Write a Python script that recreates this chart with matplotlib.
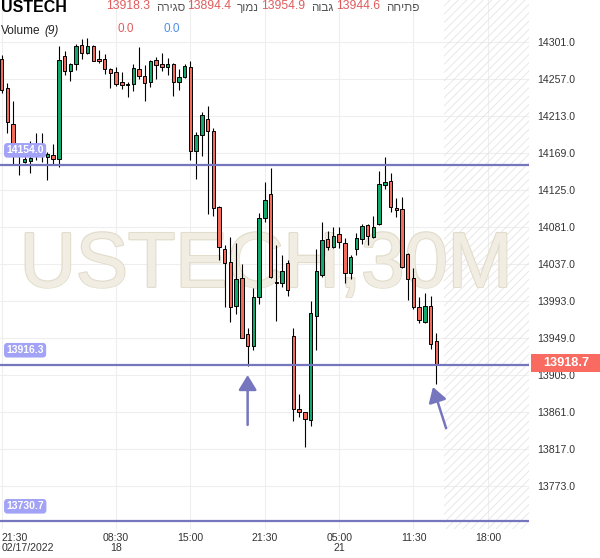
import numpy as np
import matplotlib
matplotlib.use("Agg")
import matplotlib.pyplot as plt
import matplotlib.patheffects as pe
from matplotlib.patches import Rectangle

plt.rcParams['font.family'] = ['Liberation Sans', 'DejaVu Sans']
plt.rcParams['hatch.linewidth'] = 0.6

# 30-minute candles, USTECH, 02/17/2022 21:30 onwards
OPEN = [14281, 14246, 14203, 14172, 14158, 14159.5, 14172, 14178, 14164, 14166,
        14161, 14284, 14266.5, 14274, 14297, 14288, 14296, 14280, 14280, 14268.5,
        14264.6, 14252.7, 14249.2, 14250.3, 14268.2, 14260.6, 14253.4, 14279.2, 14274.1, 14270.6,
        14274.1, 14253.4, 14259.4, 14270.6, 14171, 14189.7, 14208.7, 14194.5, 14104.1, 14054.5,
        14038.7, 13986.7, 14020, 13953.4, 13939.1, 13997.4, 14091, 14119.9, 14014, 14013.7,
        14037.5, 13950.7, 13863.9, 13860.3, 13851.1, 13974.8, 14023.9, 14066, 14057.2, 14072,
        14061.3, 14025.6, 14054.1, 14066, 14082.7, 14068.4, 14084.2, 14130.6, 14135.7, 14102.9,
        14101.7, 14048.2, 14019.7, 13985.2, 13967.3, 13986.7, 13944.6]
HIGH = [14285, 14252, 14230, 14181, 14175, 14183, 14192, 14192, 14170, 14179,
        14296, 14290, 14275.5, 14298, 14304, 14305, 14297, 14291, 14286, 14269.5,
        14270.6, 14265.3, 14253.4, 14274.1, 14294.4, 14273.3, 14279.2, 14282.5, 14287.2, 14282,
        14275.3, 14268.2, 14274.1, 14278, 14194, 14217.8, 14224.5, 14198, 14105.6, 14059.2,
        14069.1, 14062, 14036.3, 13960.9, 14008.5, 14097.7, 14133.8, 14150.5, 14059.2, 14047.4,
        14041.4, 13960.2, 13881.7, 13861, 13993, 14054.5, 14086.6, 14075.9, 14081, 14081,
        14067.2, 14047.4, 14073.2, 14084.2, 14084.2, 14093.7, 14147.6, 14163.5, 14145.2, 14115.5,
        14116.7, 14049.7, 14031.5, 13997.8, 14001.8, 13999, 13954.9]
LOW = [14240, 14193, 14156, 14142, 14157, 14144.5, 14160, 14158, 14136.5, 14156,
       14152, 14261, 14254.6, 14267, 14281, 14286, 14278, 14276, 14263, 14245.6,
       14248.3, 14244.4, 14235, 14242.4, 14256.3, 14230.8, 14246.8, 14256.3, 14266.5, 14261.4,
       14236.8, 14243.6, 14257.5, 14160.3, 14137.4, 14165.4, 14095.8, 14094.1, 14041.4, 13985.2,
       13968, 13977.2, 13948.3, 13915.3, 13934.4, 13988.7, 14086.6, 14019.6, 13969.2, 14009.7,
       13999, 13849.9, 13855.1, 13818.7, 13844.4, 13934, 14021.5, 14053.3, 14055.3, 14056,
       14013.7, 14018.8, 14047.4, 14060.4, 14059.2, 14067.2, 14083, 14125.5, 14098.8, 14092.9,
       14031.5, 13993.8, 13982.8, 13966.1, 13966.1, 13935.2, 13894.4]
CLOSE = [14243, 14205, 14172, 14166, 14162, 14163, 14179, 14170, 14167, 14161,
         14279, 14266.5, 14274.5, 14296, 14288, 14296, 14278.5, 14278.5, 14268, 14263.4,
         14250.3, 14249.2, 14250.7, 14269.4, 14260.6, 14252.3, 14277.7, 14273.7, 14270.6, 14274.1,
         14252.7, 14258.7, 14272.1, 14171, 14189.7, 14213.5, 14194.5, 14102.9, 14056.5, 14037.5,
         13985.2, 14018.5, 13949, 13939.1, 13997.4, 14091, 14112.8, 14021.2, 14013.7, 14028,
         14005.4, 13863.9, 13860.3, 13852, 13978, 14028, 14065.2, 14057.2, 14069.9, 14062.5,
         14025.6, 14044.6, 14067.2, 14081.8, 14069.9, 14080.3, 14131.4, 14134.5, 14104.1, 14101.2,
         14033.4, 14018.5, 13985.2, 13970.1, 13987.1, 13941.2, 13918.3]

LEVELS = [14154.0, 13916.3, 13730.7]
LAST_PRICE = 13918.7
PRICE_TICKS = [14301.0, 14257.0, 14213.0, 14169.0, 14125.0, 14081.0, 14037.0,
               13993.0, 13949.0, 13905.0, 13861.0, 13817.0, 13773.0]
TIME_TICKS = [0, 20, 33, 46, 59, 72, 85]
TIME_LABELS = ["21:30\n02/17/2022", "08:30\n18", "15:00", "21:30", "05:00\n21", "11:30", "18:00"]
HEADER_LABELS = ["סגירה", "נמוך", "גבוה", "פתיחה"]
HEADER_VALUES = [13918.3, 13894.4, 13954.9, 13944.6]
VOLUME_VALUES = [0.0, 0.0]

C_UP, C_DN = "#13a86b", "#f26b5b"
C_LEVEL, C_TAG = "#7676be", "#a2a2f7"
C_RED, C_BLUE, C_GREY = "#e05c5c", "#4d8fe6", "#555555"

W, H = 600, 558
fig = plt.figure(figsize=(W / 100, H / 100), dpi=100)
fig.patch.set_facecolor("white")
ax = fig.add_axes([0, 1 - 529 / H, 529 / W, 529 / H])
ax.set_xlim(-0.3, 92.2)
ax.set_ylim(13721.5, 14350.6)
for s in ax.spines.values():
    s.set_visible(False)

# grid + future hatch
ax.set_axisbelow(True)
ax.set_yticks(PRICE_TICKS)
ax.set_yticklabels([f"{v:.1f}" for v in PRICE_TICKS])
ax.set_xticks(TIME_TICKS)
ax.set_xticklabels(TIME_LABELS, linespacing=0.95)
ax.grid(True, color="#eeeeee", lw=0.8)
ax.yaxis.tick_right()
ax.tick_params(axis="y", length=0, pad=6, labelsize=7.6, labelcolor="#333333")
ax.tick_params(axis="x", length=0, pad=3, labelsize=7.6, labelcolor="#333333")
ax.get_xticklabels()[0].set_ha("left")
ax.axvspan(77.3, 92.2, facecolor="none", edgecolor="#e4e4e4", hatch="////", lw=0, zorder=0.6)

# watermark
ax.text(0.503, 0.458, "USTECH,30M", transform=ax.transAxes, ha="center", va="baseline",
        fontsize=56, color="#f1ede3", zorder=1,
        path_effects=[pe.withStroke(linewidth=1.8, foreground="#e2dccb")])
ax.text(0.503, 0.458, "USTECH,30M", transform=ax.transAxes, ha="center", va="baseline",
        fontsize=56, color="#f1ede3", zorder=1.1)

# candles
for i, (o, h, l, c) in enumerate(zip(OPEN, HIGH, LOW, CLOSE)):
    ax.vlines(i, l, h, color="black", lw=0.8, zorder=2)
    bottom = min(o, c)
    height = max(abs(c - o), 1.5)
    ax.add_patch(Rectangle((i - 0.3, bottom), 0.6, height, facecolor=C_UP if c > o else C_DN,
                           edgecolor="black", lw=0.7, zorder=2.2))

# horizontal levels with tags
ytr = ax.get_yaxis_transform()
for lv in LEVELS:
    ax.axhline(lv, color=C_LEVEL, lw=1.6, zorder=4)
    ax.text(0.012, lv + 17.8, f"{lv:.1f}", transform=ytr, ha="left", va="center",
            fontsize=7.5, fontweight="bold", color="white", zorder=5,
            bbox=dict(boxstyle="round,pad=0.22,rounding_size=0.3", fc=C_TAG, ec="none"))

# last price tag on the right scale
ax.add_patch(Rectangle((1 + 2 / 529, LAST_PRICE - 10.5), 75 / 529, 21, transform=ytr,
                       facecolor="#f96b60", edgecolor="none", clip_on=False, zorder=6))
ax.text(1 + 37 / 529, LAST_PRICE, f"{LAST_PRICE:.1f}", transform=ytr, ha="center", va="center",
        fontsize=9.2, fontweight="bold", color="white", clip_on=False, zorder=7)

# arrows pointing at the lows
arrow = dict(arrowstyle="-|>,head_width=0.55,head_length=0.9", color=C_LEVEL, lw=1.8,
             shrinkA=0, shrinkB=0)
ax.annotate("", xy=(43, LOW[43] - 10.7), xytext=(43, LOW[43] - 70), arrowprops=arrow, zorder=5)
ax.annotate("", xy=(75.4, LOW[76] - 4), xytext=(77.7, LOW[76] - 53), arrowprops=arrow, zorder=5)

# header
def fx(x):
    return x / W

def fy(y):
    return 1 - y / H

fig.text(fx(1), fy(7.5), "USTECH", fontsize=11.5, fontweight="bold", color="black", va="center")
for xv, val, lab in zip([106, 187, 261, 336], HEADER_VALUES, HEADER_LABELS):
    fig.text(fx(xv), fy(6), f"{val:.1f}", fontsize=8.7, color=C_RED, va="center")
    fig.text(fx(xv + 50), fy(8.3), lab[::-1], fontsize=8.5, color=C_GREY, va="center")
fig.text(fx(1), fy(31), "Volume", fontsize=8.5, color="#222222", va="center")
fig.text(fx(44), fy(31), "(9)", fontsize=8.5, color="#222222", va="center", style="italic")
fig.text(fx(117), fy(29), f"{VOLUME_VALUES[0]:.1f}", fontsize=8.5, color=C_RED, va="center")
fig.text(fx(163), fy(29), f"{VOLUME_VALUES[1]:.1f}", fontsize=8.5, color=C_BLUE, va="center")

fig.savefig("out.png", dpi=100)
